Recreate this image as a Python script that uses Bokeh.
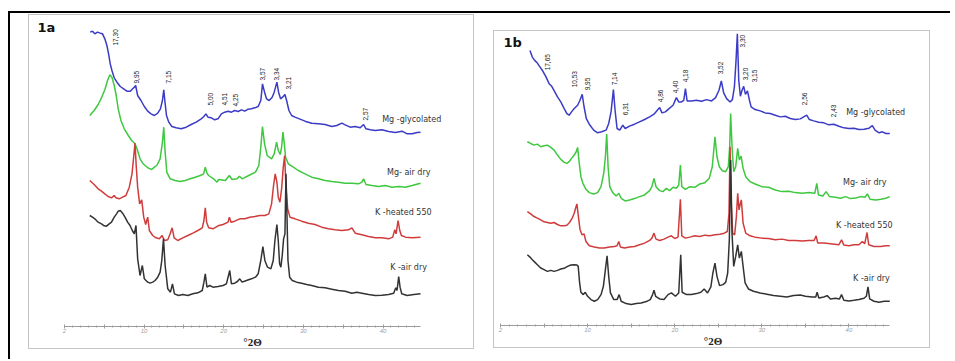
import math
from bokeh.plotting import figure
from bokeh.layouts import row
from bokeh.models import Range1d, FixedTicker, ColumnDataSource, Spacer
from bokeh.core.properties import value
from bokeh.embed import file_html
from bokeh.resources import INLINE

# ---------------- Panel 1a (2theta in degrees, intensity in a.u.) ----------------
A_GLY_T = [3.24,3.53,3.82,4.16,4.50,4.79,5.08,5.34,5.55,5.76,5.97,6.26,6.60,7.02,7.44,7.86,8.28,8.57,8.78,8.95,9.20,9.62,10.04,10.46,10.88,11.30,11.72,12.06,12.31,12.48,12.61,12.82,13.11,13.49,14.03,14.66,15.29,15.92,16.55,17.18,17.52,17.77,18.03,18.45,18.87,19.29,19.71,20.13,20.55,20.97,21.39,21.81,22.23,22.65,23.07,23.49,23.91,24.33,24.66,24.87,25.13,25.38,25.71,26.09,26.34,26.68,26.89,27.14,27.39,27.69,27.90,28.19,28.53,28.95,29.58,30.21,31.05,31.89,32.73,33.57,34.20,34.83,35.25,35.88,36.51,37.14,37.56,37.86,38.40,39.03,39.87,40.71,41.55,42.39,43.03,43.66,44.29,44.71]
A_GLY_I = [883,886,878,883,880,878,863,843,818,788,768,746,733,720,713,706,706,713,718,723,693,678,660,646,638,633,640,653,678,710,678,633,613,600,596,593,598,606,613,623,630,638,628,626,620,623,638,643,646,643,648,645,650,646,652,653,656,660,678,728,703,683,678,688,703,733,703,683,688,696,678,648,633,628,622,616,610,608,606,600,603,610,605,598,600,596,606,593,590,588,590,585,582,586,578,578,582,583]

A_MGA_T = [3.19,3.74,4.24,4.66,5.08,5.42,5.71,5.97,6.26,6.51,6.76,7.10,7.52,8.03,8.45,8.87,9.12,9.50,9.83,10.13,10.55,10.97,11.30,11.60,12.02,12.31,12.48,12.65,12.86,13.28,13.91,14.54,15.17,15.80,16.43,17.06,17.48,17.69,17.90,18.11,18.74,19.16,19.37,20.21,20.71,21.05,21.68,21.97,22.31,23.15,23.99,24.41,24.66,24.87,25.13,25.46,26.01,26.34,26.64,26.85,27.10,27.27,27.44,27.61,27.77,28.11,28.74,29.37,30.21,31.05,31.89,32.73,33.57,34.41,35.25,36.09,36.93,37.35,37.56,37.86,38.61,39.45,40.29,41.13,41.97,42.82,43.66,44.71]
A_MGA_I = [633,648,666,686,710,738,755,748,723,693,653,618,593,573,558,548,533,503,490,483,475,471,478,483,503,553,598,523,463,443,438,435,438,443,448,453,458,478,460,453,443,433,441,438,453,441,443,451,443,453,463,483,538,600,548,513,503,518,553,528,516,538,583,548,508,488,478,468,458,448,443,438,435,433,430,430,428,433,443,426,423,420,423,418,420,418,423,430]

A_KH_T = [3.19,3.74,4.24,4.66,5.08,5.50,5.92,6.26,6.47,6.89,7.31,7.73,8.15,8.49,8.70,8.87,9.03,9.20,9.45,9.71,9.96,10.21,10.46,10.67,11.09,11.51,11.93,12.27,12.56,12.98,13.28,13.53,13.78,14.24,14.87,15.50,16.13,16.76,17.31,17.52,17.69,17.86,18.11,18.66,19.29,19.92,20.55,20.71,20.92,21.39,22.02,22.65,23.28,23.91,24.54,25.17,25.67,26.01,26.26,26.47,26.68,26.85,27.06,27.27,27.48,27.65,27.82,28.03,28.32,28.95,29.79,30.63,31.47,32.31,33.15,33.99,34.83,35.67,36.09,36.51,37.35,38.19,39.03,39.87,40.71,41.22,41.47,41.64,41.89,42.10,42.31,42.82,43.66,44.71]
A_KH_I = [438,426,413,406,398,390,386,393,386,383,388,393,418,458,508,550,478,418,368,380,328,306,328,288,273,266,263,273,258,260,278,296,266,258,266,273,280,288,296,318,356,313,296,293,302,306,313,328,313,316,323,323,328,330,333,333,338,368,423,458,433,388,373,413,478,513,418,353,328,323,316,310,306,298,293,290,288,290,296,280,275,270,266,266,263,268,290,278,318,288,273,268,266,268]

A_KA_T = [3.19,3.53,3.82,4.24,4.66,5.00,5.29,5.63,5.92,6.26,6.55,6.76,7.02,7.31,7.61,7.94,8.24,8.53,8.78,8.99,9.20,9.50,9.79,10.04,10.46,10.76,11.09,11.39,11.72,12.02,12.23,12.44,12.65,12.98,13.32,13.57,13.82,14.33,14.87,15.50,16.13,16.76,17.31,17.52,17.69,17.90,18.24,18.66,19.29,19.92,20.34,20.76,20.97,21.39,21.72,22.02,22.31,22.86,23.49,23.99,24.33,24.66,24.92,25.17,25.50,25.92,26.22,26.43,26.68,26.85,27.02,27.18,27.35,27.52,27.69,27.82,27.94,28.07,28.28,28.61,29.16,29.79,30.42,31.05,31.89,32.73,33.57,34.41,35.25,36.09,36.72,37.35,38.19,39.03,39.87,40.71,41.34,41.60,41.76,41.97,42.14,42.35,43.03,43.87,44.71]
A_KA_I = [333,328,323,313,308,302,301,308,313,328,338,346,348,340,328,313,303,288,278,303,203,153,183,143,133,130,133,138,148,163,198,263,183,113,103,128,98,93,96,93,98,101,108,133,158,118,123,118,120,123,128,168,128,130,135,143,133,138,143,148,158,198,240,198,178,173,198,258,306,258,188,178,213,263,278,458,338,198,148,138,133,130,126,123,118,116,112,108,106,100,103,100,96,93,94,96,100,116,108,150,118,98,93,96,98]

A_PEAK_LABELS = ["17,30","9,95","7,15","5,00","4,51","4,25","3,57","3,34","3,21","2,57"]
A_PEAK_T = [6.47,9.00,13.03,18.32,20.09,21.48,24.88,26.65,28.16,37.74]
A_PEAK_I = [843,729,729,663,663,660,738,738,711,618]

# ---------------- Panel 1b ----------------
B_GLY_T = [3.38,3.65,3.92,4.23,4.54,4.85,5.19,5.58,5.88,6.23,6.54,6.92,7.31,7.62,7.88,8.15,8.46,8.85,9.12,9.38,9.58,9.85,10.19,10.69,11.15,11.62,12.12,12.42,12.69,12.96,13.15,13.38,13.69,14.04,14.31,14.81,15.38,15.96,16.54,17.12,17.62,18.00,18.27,18.54,18.92,19.35,19.81,20.19,20.46,20.77,21.04,21.23,21.42,21.92,22.50,23.08,23.65,24.23,24.69,25.08,25.35,25.62,25.96,26.35,26.62,26.85,27.04,27.19,27.35,27.54,27.73,27.92,28.12,28.35,28.58,28.77,29.23,29.81,30.38,30.96,31.54,32.12,32.69,33.27,33.85,34.42,34.81,35.15,35.46,35.96,36.54,37.12,37.69,38.27,38.85,39.42,40.00,40.58,41.15,41.73,42.31,42.69,43.00,43.46,43.85,44.23,44.69]
B_GLY_I = [828,808,798,790,778,766,750,728,720,703,688,673,653,638,633,643,653,663,678,696,660,623,606,588,580,583,588,608,643,710,648,593,588,603,593,600,606,613,620,628,636,648,656,640,643,653,663,686,673,673,678,713,676,676,678,675,680,676,686,708,736,700,683,673,680,718,798,878,738,690,708,720,696,706,678,658,650,646,640,638,633,628,630,623,620,622,628,633,620,616,612,610,604,606,600,595,593,594,590,591,594,602,588,580,583,578,578]

B_MGA_T = [3.08,3.46,3.85,4.23,4.62,5.00,5.38,5.77,6.15,6.54,6.92,7.31,7.62,7.88,8.15,8.46,8.69,8.85,9.04,9.23,9.46,9.81,10.19,10.69,11.15,11.54,11.85,12.04,12.19,12.35,12.54,12.88,13.27,13.58,13.85,14.31,14.81,15.38,15.96,16.54,17.12,17.38,17.62,17.85,18.27,18.65,19.04,19.42,19.81,20.19,20.46,20.65,20.81,21.23,21.73,22.31,22.88,23.46,23.96,24.31,24.62,24.85,25.12,25.46,25.85,26.15,26.31,26.42,26.58,26.77,27.00,27.23,27.42,27.62,27.85,28.15,28.65,29.23,30.00,30.77,31.54,32.31,33.08,33.85,34.62,35.38,36.08,36.31,36.50,37.00,37.38,37.77,38.46,39.04,39.62,40.19,40.77,41.35,41.85,42.12,42.42,43.08,43.65,44.23,44.69]
B_MGA_I = [553,548,543,546,538,541,543,536,528,513,500,491,488,493,503,513,523,536,488,448,428,410,400,396,400,418,458,508,576,478,418,400,390,398,383,375,378,382,388,393,406,418,443,418,406,403,413,406,416,413,423,483,418,410,418,416,426,430,443,478,568,508,478,466,463,478,538,638,538,463,478,533,498,510,473,448,433,426,418,416,408,403,404,400,398,400,398,428,393,390,403,388,386,383,388,382,384,388,386,396,380,378,380,383,388]

B_KH_T = [3.08,3.46,3.85,4.23,4.62,5.00,5.38,5.77,6.15,6.54,6.92,7.31,7.62,7.92,8.23,8.46,8.65,8.77,8.92,9.12,9.35,9.58,9.81,10.19,10.77,11.35,11.92,12.50,13.08,13.38,13.58,13.77,14.23,14.81,15.38,15.96,16.54,17.12,17.38,17.62,17.85,18.27,18.77,19.23,19.62,20.00,20.38,20.65,20.81,21.23,21.73,22.31,22.88,23.46,24.04,24.62,25.19,25.69,26.04,26.23,26.35,26.50,26.65,26.88,27.08,27.23,27.38,27.54,27.65,27.85,28.15,28.65,29.23,30.00,30.77,31.54,32.31,33.08,33.85,34.62,35.38,36.00,36.23,36.42,37.12,37.88,38.85,39.15,39.42,40.00,40.58,41.15,41.54,41.81,42.08,42.27,42.88,43.65,44.23,44.69]
B_KH_I = [343,336,328,323,318,312,310,308,310,304,300,300,302,310,323,338,356,366,333,290,273,276,253,240,236,233,233,236,238,240,253,236,233,236,238,243,248,256,263,278,260,256,260,266,270,262,266,380,270,263,266,270,268,272,270,273,275,278,283,338,538,358,278,273,328,398,348,368,378,308,278,270,266,263,262,258,260,256,256,254,256,256,270,248,248,246,243,258,242,240,243,243,253,246,280,243,238,238,240,240]

B_KA_T = [3.08,3.38,3.65,3.96,4.23,4.62,5.00,5.38,5.77,6.15,6.54,6.92,7.31,7.69,8.08,8.46,8.77,8.92,9.08,9.23,9.50,9.73,10.00,10.38,10.77,11.15,11.54,11.81,12.04,12.23,12.42,12.62,13.00,13.38,13.62,13.85,14.42,15.00,15.58,16.15,16.73,17.19,17.46,17.62,17.81,18.27,18.77,19.23,19.62,20.08,20.46,20.69,20.85,21.35,21.92,22.50,23.00,23.38,23.77,24.15,24.38,24.62,24.85,25.15,25.54,25.85,26.08,26.27,26.42,26.58,26.77,27.00,27.23,27.42,27.65,27.85,28.08,28.46,29.04,29.81,30.58,31.35,32.12,32.88,33.65,34.42,35.00,35.77,36.19,36.35,36.54,37.12,37.50,37.88,38.46,38.92,39.15,39.42,40.00,40.58,41.15,41.73,42.00,42.19,42.38,42.88,43.46,44.04,44.69]
B_KA_I = [213,206,198,190,183,173,168,163,166,163,166,170,172,178,182,183,182,178,128,100,93,100,88,78,73,78,93,118,168,210,148,98,78,78,93,73,66,63,66,68,72,78,93,106,88,80,78,93,98,88,98,213,100,93,93,96,100,110,98,116,158,188,148,120,123,130,158,258,498,278,178,208,243,203,223,178,128,110,103,98,94,90,88,86,90,92,88,86,86,100,83,86,90,80,82,80,93,76,74,76,78,82,88,116,80,73,70,73,73]

B_PEAK_LABELS = ["17,65","10,53","9,95","7,14","6,31","4,86","4,40","4,18","3,52","3,30","3,20","3,15","2,56","2,43"]
B_PEAK_T = [5.39,8.54,10.03,13.03,14.30,18.34,20.07,21.22,25.26,27.80,28.14,29.18,34.95,38.18]
B_PEAK_I = [768,717,708,723,633,672,699,732,756,837,738,732,663,627]

SERIES_NAMES = ["Mg -glycolated", "Mg- air dry", "K -heated 550", "K -air dry"]
SERIES_COLORS = ["#3b3bc6", "#3fc83f", "#d03c3c", "#333333"]
A_NAME_T = [39.9, 40.5, 39.0, 40.9]
A_NAME_I = [621, 462, 342, 177]
B_NAME_T = [39.68, 39.33, 38.52, 40.48]
B_NAME_I = [642, 429, 300, 141]

TICKS = [0, 5, 10, 15, 20, 25, 30, 35, 40]
TICK_LABELS = {0: "2", 5: "", 10: "10", 15: "", 20: "20", 25: "", 30: "30", 35: "", 40: "40"}


def panel(tag, tag_t, tag_i, series, peak_lab, peak_t, peak_i, name_t, name_i,
          xr, yr, w, h, bottom, margin):
    p = figure(width=w, height=h, x_range=Range1d(*xr), y_range=Range1d(*yr),
               output_backend="svg", toolbar_location=None, y_axis_location=None,
               min_border_left=0, min_border_right=0, min_border_top=0,
               min_border_bottom=bottom, margin=margin,
               styles={"border": "1px solid #c4c4c4"})
    p.outline_line_color = None
    p.xgrid.visible = False
    p.ygrid.visible = False
    ax = p.xaxis[0]
    ax.ticker = FixedTicker(ticks=TICKS, minor_ticks=list(range(0, 45)))
    ax.bounds = (0, 44.7)
    ax.major_label_overrides = TICK_LABELS
    ax.axis_line_color = "#9c9c9c"
    ax.major_tick_line_color = "#9c9c9c"
    ax.minor_tick_line_color = "#9c9c9c"
    ax.major_tick_in = 2
    ax.major_tick_out = 2
    ax.minor_tick_in = 1
    ax.minor_tick_out = 1
    ax.major_label_standoff = 0
    ax.major_label_text_font_size = "6px"
    ax.major_label_text_color = "#a0a0a0"
    ax.major_label_text_font_style = "italic"
    ax.axis_label = "°2Θ"
    ax.axis_label_standoff = 0
    ax.axis_label_text_font = "Liberation Serif"
    ax.axis_label_text_font_size = "11px"
    ax.axis_label_text_font_style = "bold"
    ax.axis_label_text_color = "#222222"

    for (t, i), c in zip(series, SERIES_COLORS):
        assert len(t) == len(i)
        p.line(t, i, line_color=c, line_width=1.5)

    p.text(x=[tag_t], y=[tag_i], text=[tag], text_font=value("DejaVu Sans"),
           text_font_size="13px", text_font_style="bold", text_color="#111111",
           text_align="left", text_baseline="alphabetic")
    src = ColumnDataSource(dict(x=peak_t, y=peak_i, t=peak_lab))
    p.text(x="x", y="y", text="t", source=src, angle=math.pi / 2,
           text_font=value("Liberation Sans"), text_font_size="6.5px",
           text_color="#222222", text_align="left", text_baseline="middle")
    src2 = ColumnDataSource(dict(x=name_t, y=name_i, t=SERIES_NAMES))
    p.text(x="x", y="y", text="t", source=src2, text_font=value("DejaVu Sans"),
           text_font_size="8px", text_color="#333333", text_align="left",
           text_baseline="middle")
    return p


pa = panel("1a", -3.37, 897,
           [(A_GLY_T, A_GLY_I), (A_MGA_T, A_MGA_I), (A_KH_T, A_KH_I), (A_KA_T, A_KA_I)],
           A_PEAK_LABELS, A_PEAK_T, A_PEAK_I, A_NAME_T, A_NAME_I,
           (-4.376, 51.61), (0, 933), 446, 335, 22, (1, 0, 0, 18))
pb = panel("1b", 0.35, 852,
           [(B_GLY_T, B_GLY_I), (B_MGA_T, B_MGA_I), (B_KH_T, B_KH_I), (B_KA_T, B_KA_I)],
           B_PEAK_LABELS, B_PEAK_T, B_PEAK_I, B_NAME_T, B_NAME_I,
           (-0.692, 49.48), (0, 885), 437, 318, 21, (17, 0, 0, 19))

filler = Spacer(width=20, height=346)
layout = row(pa, pb, filler, margin=(11, 0, 0, 8),
             styles={"border-top": "2px solid #000000", "border-left": "2px solid #000000"})

open("out.html", "w").write(file_html(layout, INLINE))
